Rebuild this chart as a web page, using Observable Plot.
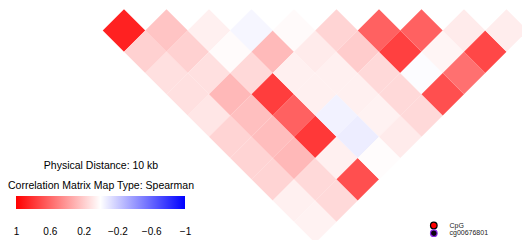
<!DOCTYPE html>
<html><head><meta charset="utf-8">
<script src="https://cdn.jsdelivr.net/npm/d3@7"></script>
<script src="https://cdn.jsdelivr.net/npm/@observablehq/plot@0.6"></script>
<style>
html,body{margin:0;padding:0;background:#fff;}
#wrap{position:relative;width:522px;height:240px;overflow:hidden;}
#wrap svg{position:absolute;left:0;top:0;}
</style></head><body><div id="wrap"></div>
<script>
// Spearman correlations, upper triangle: rhoRowN[k] = r(CpG N, CpG N+k+1)
const rhoRow0 = [0.87, 0.18, 0.12, 0.12, 0.10, 0.17, 0.17, 0.17, 0.06, 0.05];
const rhoRow1 = [0.23, 0.18, 0.12, 0.28, 0.25, 0.26, 0.28, 0.15, 0.15];
const rhoRow2 = [0.06, 0.015, 0.15, 0.76, 0.62, 0.78, 0.06, 0.69];
const rhoRow3 = [-0.035, 0.27, 0.06, 0.06, -0.05, -0.07, 0.01];
const rhoRow4 = [0.02, 0.08, 0.06, 0.06, 0.05, 0.08];
const rhoRow5 = [0.17, 0.20, 0.15, 0.15, 0.15];
const rhoRow6 = [0.62, 0.75, -0.01, 0.69];
const rhoRow7 = [0.62, 0.04, 0.56];
const rhoRow8 = [0.08, 0.72];
const rhoRow9 = [0.07];
const rho = [rhoRow0, rhoRow1, rhoRow2, rhoRow3, rhoRow4, rhoRow5, rhoRow6, rhoRow7, rhoRow8, rhoRow9];

const colorTicks = [1, 0.6, 0.2, -0.2, -0.6, -1];
const colorDomain = [-1, 0, 1];
const colorRange = ["#0000ff", "#ffffff", "#ff0000"];
const titleLines = ["Physical Distance: 10 kb", "Correlation Matrix Map Type: Spearman"];
const keyLabels = ["CpG", "cg00676801"];
const keyFill = ["#ff0000", "#0a0010"];
const keyStroke = ["#000000", "#8a2be2"];

const cells = rho.flatMap((row, i) => row.map((v, k) => ({i, j: i + k + 1, v})));
const nDiag = rho.length;
const half = 21.25;
const font = "'Liberation Sans', Arial, Helvetica, sans-serif";

const main = Plot.plot({
  width: 522, height: 240, margin: 0,
  style: {fontFamily: font},
  x: {axis: null, domain: [0.5, nDiag - 0.5], range: [123.5, 123.5 + 2 * (nDiag - 1) * half]},
  y: {axis: null, domain: [1, nDiag], range: [30, 30 + (nDiag - 1) * half]},
  color: {type: "linear", domain: colorDomain, range: colorRange, interpolate: "rgb"},
  marks: [
    Plot.dot(cells, {
      x: d => (d.i + d.j) / 2,
      y: d => d.j - d.i,
      fill: "v",
      symbol: "diamond2",
      r: half / (0.62625 * Math.sqrt(Math.PI)),
      stroke: null
    })
  ]
});

const colorScale = main.scale("color");

const legend = Plot.plot({
  width: 522, height: 240, margin: 0,
  style: {background: "transparent", fontFamily: font, color: "#000"},
  x: {axis: null, domain: [1, -1], range: [16, 185]},
  y: {axis: null, domain: [0, 240], range: [0, 240]},
  marks: [
    () => {
      const ns = "http://www.w3.org/2000/svg";
      const defs = document.createElementNS(ns, "defs");
      const g = document.createElementNS(ns, "linearGradient");
      g.setAttribute("id", "corrRamp");
      g.setAttribute("x1", "0"); g.setAttribute("x2", "1");
      g.setAttribute("y1", "0"); g.setAttribute("y2", "0");
      [...colorDomain].reverse().forEach(d => {
        const s = document.createElementNS(ns, "stop");
        s.setAttribute("offset", String((1 - d) / 2));
        s.setAttribute("stop-color", colorScale.apply(d));
        g.appendChild(s);
      });
      defs.appendChild(g);
      return defs;
    },
    Plot.text(titleLines, {x: 0, y: (d, i) => 164.9 + i * 20, text: d => d, fontSize: 10.5, fill: "#000"}),
    Plot.rect([0], {x1: 1, x2: -1, y1: 196, y2: 209, fill: "url(#corrRamp)"}),
    Plot.text(colorTicks, {x: d => d, y: 230.8, text: d => d3.format("~g")(d), fontSize: 10, fill: "#000"}),
    Plot.dot(keyLabels, {frameAnchor: "left", dx: 433.3, y: (d, i) => 225 + i * 7.7, r: 3.3,
      fill: (d, i) => keyFill[i], stroke: (d, i) => keyStroke[i], strokeWidth: 1.2}),
    Plot.text(keyLabels, {frameAnchor: "left", dx: 449, y: (d, i) => 225 + i * 7.7, text: d => d,
      textAnchor: "start", fontSize: 7, fill: "#222"})
  ]
});

const wrap = document.getElementById("wrap");
wrap.appendChild(main);
wrap.appendChild(legend);
</script>
</body></html>
